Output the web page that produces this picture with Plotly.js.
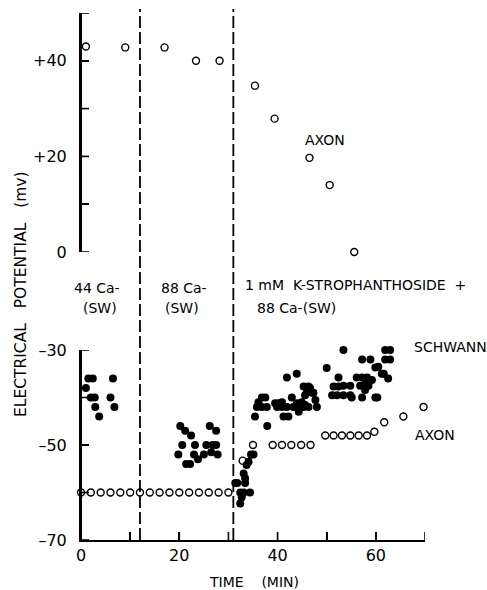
<!DOCTYPE html>
<html>
<head>
<meta charset="utf-8">
<script src="https://cdn.plot.ly/plotly-3.0.1.min.js"></script>
<style>html,body{margin:0;padding:0;background:#fff;}#chart{width:487px;height:590px;}</style>
</head>
<body>
<div id="chart"></div>
<script>
// ---- data (time in min, potential in mV) ----
const axonTopTime = [1, 9, 17, 23.4, 28.2, 35.4, 39.4, 46.5, 50.6, 55.6];
const axonTopPot  = [43, 42.8, 42.8, 40, 40, 34.8, 27.9, 19.7, 14, 0];

const axonLowTime = [0, 2, 4, 6, 8, 10, 12, 14, 16, 18, 20, 22, 24, 26, 28, 30,
                     32.9, 35, 39, 40.9, 42.8, 44.8, 46.7,
                     49.7, 51.4, 53.1, 54.8, 56.5, 58.2, 59.7, 61.7, 65.6, 69.7];
const axonLowPot  = [-60, -60, -60, -60, -60, -60, -60, -60, -60, -60, -60, -60, -60, -60, -60, -60,
                     -53.3, -50, -50, -50, -50, -50, -50,
                     -48, -48, -48, -48, -48, -48, -47.2, -45.2, -44, -42];

const schwannTime = [
  1.5, 2.4, 6.5, 1.0, 2.0, 2.8, 6.0, 2.9, 6.8, 3.7,
  20.2, 21.2, 22.4, 26.2, 27.5, 20.6, 23.2, 25.5, 26.8, 27.5, 19.8, 23.0, 25.0, 26.5, 27.8, 21.4, 22.2, 23.8,
  31.4, 31.8, 32.4, 32.7, 32.4, 33.1, 33.4, 33.4, 33.1, 33.7, 34.1, 34.4, 34.6, 35.1,
  35.4, 35.8, 36.8, 37.8, 36.1, 36.8, 37.5, 37.9, 39.5, 39.9, 40.2, 40.9, 40.9, 41.9, 41.2, 42.2,
  41.9, 43.9, 42.9, 43.2, 43.9, 44.3, 44.6, 44.9, 45.3, 45.6, 46.0, 46.3, 45.6, 46.6, 48.0, 47.0,
  47.7, 45.3, 46.3, 47.3,
  50.0, 52.4, 53.4, 57.2, 58.9, 61.9, 62.9, 61.9, 62.9, 59.9, 60.5, 61.2, 61.6, 62.5,
  56.1, 57.2, 58.2, 59.2, 51.4, 52.4, 53.4, 54.8, 56.8, 57.8, 58.5,
  51.1, 52.1, 53.4, 54.8, 55.1, 57.2, 57.8, 59.9, 60.3
];
const schwannPot = [
  -36, -36, -36, -38, -40, -40, -40, -42, -42, -44,
  -46, -47, -48, -46, -47, -50, -50, -50, -50, -50, -52, -52, -52, -51.5, -52, -54, -54, -53,
  -58, -58, -60, -61, -62.3, -60, -58, -57, -56, -54.2, -53.5, -60, -52, -52,
  -44, -42, -42, -42, -41, -40, -40, -46, -41.2, -42, -41.2, -41, -42, -42, -44, -44,
  -35.8, -35, -40, -42, -41.2, -43, -42, -41, -42, -39.5, -38.6, -42, -41.6, -38, -42, -39,
  -40.5, -37.7, -37.7, -39,
  -33.8, -35.8, -30, -32, -32, -30, -30, -32, -32, -33.7, -33.5, -35, -35, -36,
  -35.8, -35.8, -35.8, -36.3, -37.7, -37.7, -37.5, -37.5, -37.5, -37, -37.5,
  -39.5, -39.5, -39.5, -39.5, -40, -40, -38.4, -40, -40
];

const xTickVals = [0, 10, 20, 30, 40, 50, 60, 70];
const xTickText = ['0', '', '20', '', '40', '', '60', ''];
const yTopTickVals = [0, 10, 20, 30, 40, 50];
const yTopTickText = ['0', '', '+20', '', '+40', ''];
const yLowTickVals = [-70, -60, -50, -40, -30];
const yLowTickText = ['\u201370', '', '\u201350', '', '\u201330'];
const solutionChanges = [12, 31];

// ---- layout helpers (pixel -> paper) ----
const L = 81, R = 62, T = 13, B = 50, W = 487, H = 590;
const pw = W - L - R, ph = H - T - B;
const px = v => (v - L) / pw;
const py = v => (H - B - v) / ph;
const TICK = 8;
const yLowDomain = [0, py(350)];
const yTopDomain = [py(252), 1];

const FONT = 'DejaVu Sans, Liberation Sans, sans-serif';
const openMarker = {symbol: 'circle-open', size: 7, color: '#000', line: {width: 1.4, color: '#000'}};

const traces = [
  {x: axonTopTime, y: axonTopPot, xaxis: 'x', yaxis: 'y2', mode: 'markers', type: 'scatter',
   marker: openMarker, cliponaxis: false, hoverinfo: 'skip'},
  {x: axonLowTime, y: axonLowPot, xaxis: 'x', yaxis: 'y', mode: 'markers', type: 'scatter',
   marker: openMarker, cliponaxis: false, hoverinfo: 'skip'},
  {x: schwannTime, y: schwannPot, xaxis: 'x', yaxis: 'y', mode: 'markers', type: 'scatter',
   marker: {symbol: 'circle', size: 8, color: '#000'}, cliponaxis: false, hoverinfo: 'skip'}
];

const axisCommon = {
  showline: true, linecolor: '#000', linewidth: 2, ticks: 'inside', ticklen: TICK,
  tickwidth: 1.6, tickcolor: '#000', showgrid: false, zeroline: false,
  tickfont: {family: FONT, size: 16, color: '#000'}
};

const axisLine = {color: '#000', width: 2};
const tickLine = {color: '#000', width: 1.6};
const shapes = [].concat(
  // solution-change markers
  solutionChanges.map(t => ({
    type: 'line', xref: 'x', yref: 'paper', x0: t, x1: t, y0: 0, y1: py(9),
    line: {color: '#000', width: 1.8, dash: '12px,4px'}
  })),
  // y-axis spines
  [{type: 'line', xref: 'paper', yref: 'y domain', x0: 0, x1: 0, y0: 0, y1: 1, line: axisLine},
   {type: 'line', xref: 'paper', yref: 'y2 domain', x0: 0, x1: 0, y0: 0, y1: 1, line: axisLine}],
  // inward ticks
  yTopTickVals.map(v => ({type: 'line', xref: 'paper', yref: 'y2', x0: 0, x1: TICK / pw, y0: v, y1: v, line: tickLine})),
  yLowTickVals.map(v => ({type: 'line', xref: 'paper', yref: 'y', x0: 0, x1: TICK / pw, y0: v, y1: v, line: tickLine})),
  xTickVals.map(v => ({type: 'line', xref: 'x', yref: 'paper', x0: v, x1: v, y0: 0, y1: TICK / ph, line: tickLine}))
);

const ann = (text, x, y, opts) => Object.assign({
  text: text, xref: 'paper', yref: 'paper', x: px(x), y: py(y), showarrow: false,
  font: {family: FONT, size: 14, color: '#000'}, xanchor: 'center', yanchor: 'middle'
}, opts || {});

const annotations = [
  ann('AXON', 325, 140),
  ann('44 Ca-', 97, 288),
  ann('(SW)', 100, 308),
  ann('88 Ca-', 184, 288),
  ann('(SW)', 182, 308),
  ann('1 mM\u00a0 K-STROPHANTHOSIDE\u00a0 +', 243, 285, {xanchor: 'left'}),
  ann('88 Ca-(SW)', 255, 308, {xanchor: 'left'}),
  ann('SCHWANN', 412, 347, {xanchor: 'left'}),
  ann('AXON', 413, 435, {xanchor: 'left'}),
  ann('ELECTRICAL\u00a0\u00a0\u00a0POTENTIAL\u00a0\u00a0\u00a0(mv)', 21, 294, {textangle: -90, font: {family: FONT, size: 15.5, color: '#000'}}),
  ann('TIME\u00a0\u00a0\u00a0\u00a0(MIN)', 254, 582)
];

const layout = {
  width: W, height: H, margin: {l: L, r: R, t: T, b: B},
  paper_bgcolor: '#fff', plot_bgcolor: '#fff', showlegend: false,
  xaxis: Object.assign({}, axisCommon, {range: [0, 70], tickvals: xTickVals, ticktext: xTickText,
    anchor: 'y'}),
  yaxis: Object.assign({}, axisCommon, {domain: yLowDomain, range: [-70, -30],
    tickvals: yLowTickVals, ticktext: yLowTickText, anchor: 'x', ticklabelstandoff: 9}),
  yaxis2: Object.assign({}, axisCommon, {domain: yTopDomain, range: [0, 50],
    tickvals: yTopTickVals, ticktext: yTopTickText, anchor: 'x', ticklabelstandoff: 9}),
  shapes: shapes,
  annotations: annotations
};

Plotly.newPlot('chart', traces, layout, {staticPlot: true, displayModeBar: false});
</script>
</body>
</html>
